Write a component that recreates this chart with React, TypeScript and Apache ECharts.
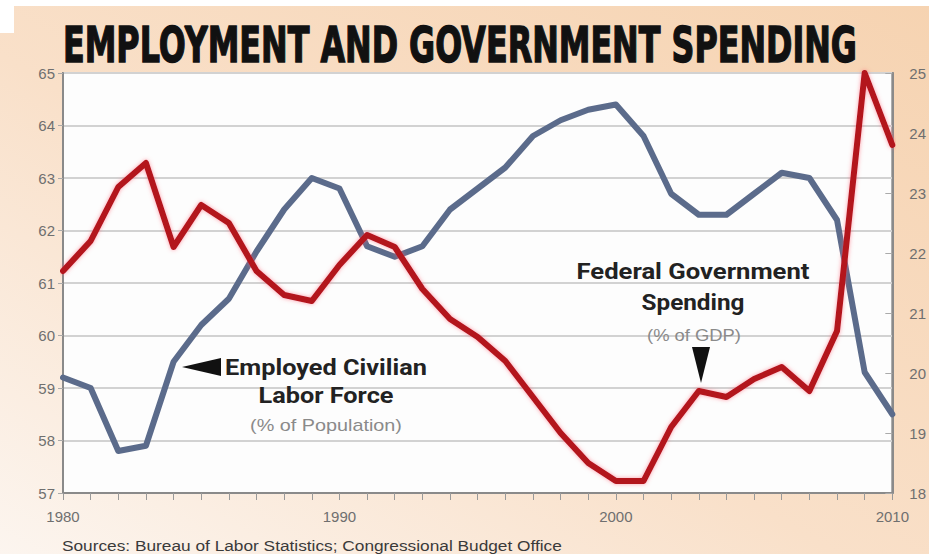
import React, { useEffect, useRef } from "react";
import * as echarts from "echarts";

const years = [1980,1981,1982,1983,1984,1985,1986,1987,1988,1989,1990,1991,1992,1993,1994,1995,1996,1997,1998,1999,2000,2001,2002,2003,2004,2005,2006,2007,2008,2009,2010];
const employment = [59.2,59.0,57.8,57.9,59.5,60.2,60.7,61.6,62.4,63.0,62.8,61.7,61.5,61.7,62.4,62.8,63.2,63.8,64.1,64.3,64.4,63.8,62.7,62.3,62.3,62.7,63.1,63.0,62.2,59.3,58.5];
const spending = [21.7,22.2,23.1,23.5,22.1,22.8,22.5,21.7,21.3,21.2,21.8,22.3,22.1,21.4,20.9,20.6,20.2,19.6,19.0,18.5,18.2,18.2,19.1,19.7,19.6,19.9,20.1,19.7,20.7,25.0,23.8];
const leftTicks = { min: 57, max: 65, interval: 1 };
const rightTicks = { min: 18, max: 25, interval: 1 };
const xTicks = { min: 1980, max: 2010, interval: 10 };
const titleText = "EMPLOYMENT AND GOVERNMENT SPENDING";
const sourceText = "Sources: Bureau of Labor Statistics; Congressional Budget Office";

function fit(text: string, font: string, target: number): number {
  const c = document.createElement("canvas").getContext("2d");
  if (!c) return 1;
  c.font = font;
  const w = c.measureText(text).width;
  return w > 0 ? target / w : 1;
}

export default function App() {
  const ref = useRef<HTMLDivElement>(null);
  useEffect(() => {
    if (!ref.current) return;
    const chart = echarts.init(ref.current, null, { renderer: "svg" });
    const titleFont = 'bold 50px "DejaVu Sans"';
    const boldFont = 'bold 22px Roboto';
    const subFont = '16px "Liberation Sans"';
    const srcFont = '14px "Liberation Sans"';
    const txt = (text: string, x: number, y: number, font: string, width: number, color: string, align = "center", extra: any = {}) => ({
      type: "text",
      x,
      y,
      scaleX: fit(text, font, width),
      z: 100,
      style: {
        text,
        font,
        fill: color,
        align,
        verticalAlign: "middle",
        ...extra,
      },
    });
    chart.setOption({
      animation: false,
      backgroundColor: new echarts.graphic.LinearGradient(1, 0, 0, 1, [
        { offset: 0, color: "#f6d3b1" },
        { offset: 0.55, color: "#f9e0c9" },
        { offset: 1, color: "#fcf5ef" },
      ]),
      grid: {
        left: 63,
        right: 36,
        top: 73,
        bottom: 61,
        show: true,
        backgroundColor: "#fdfdfd",
        borderColor: "#8a8a8a",
        borderWidth: 2,
      },
      xAxis: {
        type: "value",
        min: xTicks.min,
        max: xTicks.max,
        interval: xTicks.interval,
        axisLine: { show: true, lineStyle: { color: "#8a8a8a", width: 2 } },
        axisTick: { show: true, length: 7, lineStyle: { color: "#999" } },
        minorTick: { show: true, splitNumber: 10, length: 7, lineStyle: { color: "#999" } },
        splitLine: { show: false },
        axisLabel: {
          color: "#6f6f6f",
          fontSize: 15,
          fontFamily: "Liberation Sans",
          margin: 16,
          formatter: (v: number) => String(v),
        },
      },
      yAxis: [
        {
          type: "value",
          min: leftTicks.min,
          max: leftTicks.max,
          interval: leftTicks.interval,
          axisLine: { show: true, lineStyle: { color: "#8a8a8a", width: 2 } },
          axisTick: { show: true, length: 5, lineStyle: { color: "#aaa" } },
          splitLine: { show: true, lineStyle: { color: "#d2d2d2", width: 2 } },
          axisLabel: { color: "#6f6f6f", fontSize: 15, fontFamily: "Liberation Sans", margin: 8 },
        },
        {
          type: "value",
          position: "right",
          min: rightTicks.min,
          max: rightTicks.max,
          interval: rightTicks.interval,
          axisLine: { show: true, lineStyle: { color: "#8a8a8a", width: 2 } },
          axisTick: { show: true, inside: true, length: 7, lineStyle: { color: "#aaa" } },
          splitLine: { show: false },
          axisLabel: { color: "#6f6f6f", fontSize: 15, fontFamily: "Liberation Sans", margin: 17 },
        },
      ],
      series: [
        {
          type: "line",
          yAxisIndex: 0,
          data: years.map((y, i) => [y, employment[i]]),
          symbol: "none",
          clip: false,
          lineStyle: { color: "#5b6b8b", width: 6, join: "round", cap: "round" },
          z: 3,
        },
        {
          type: "line",
          yAxisIndex: 1,
          data: years.map((y, i) => [y, spending[i]]),
          symbol: "none",
          clip: false,
          lineStyle: {
            color: "#b3121e",
            width: 6,
            join: "round",
            cap: "round",
            shadowBlur: 4,
            shadowColor: "rgba(255,90,110,0.6)",
          },
          z: 4,
        },
      ],
      graphic: [
        { type: "rect", shape: { x: 0, y: 0, width: 929, height: 6 }, style: { fill: "#ffffff" }, z: 90 },
        { type: "rect", shape: { x: 0, y: 0, width: 14, height: 33 }, style: { fill: "#ffffff" }, z: 90 },
        txt(titleText, 63, 45, titleFont, 794, "#111111", "left", { stroke: "#111111", lineWidth: 1.5 }),
        txt("Employed Civilian", 326, 368, boldFont, 202, "#222222"),
        txt("Labor Force", 326, 396, boldFont, 135, "#222222"),
        txt("(% of Population)", 326, 426, subFont, 152, "#8a8a8a"),
        txt("Federal Government", 693, 272, boldFont, 233, "#222222"),
        txt("Spending", 693, 302, boldFont, 103, "#222222"),
        txt("(% of GDP)", 694, 335, subFont, 94, "#8a8a8a"),
        txt(sourceText, 62, 546, srcFont, 500, "#3a3a3a", "left"),
        {
          type: "polygon",
          z: 100,
          shape: { points: [[182, 367], [221, 358], [221, 376]] },
          style: { fill: "#111111" },
        },
        {
          type: "polygon",
          z: 100,
          shape: { points: [[692, 347], [710, 347], [701, 383]] },
          style: { fill: "#111111" },
        },
      ],
    });
    return () => chart.dispose();
  }, []);
  return (
    <div
      ref={ref}
      style={{ position: "absolute", left: 0, top: 0, width: 929, height: 554 }}
    />
  );
}
